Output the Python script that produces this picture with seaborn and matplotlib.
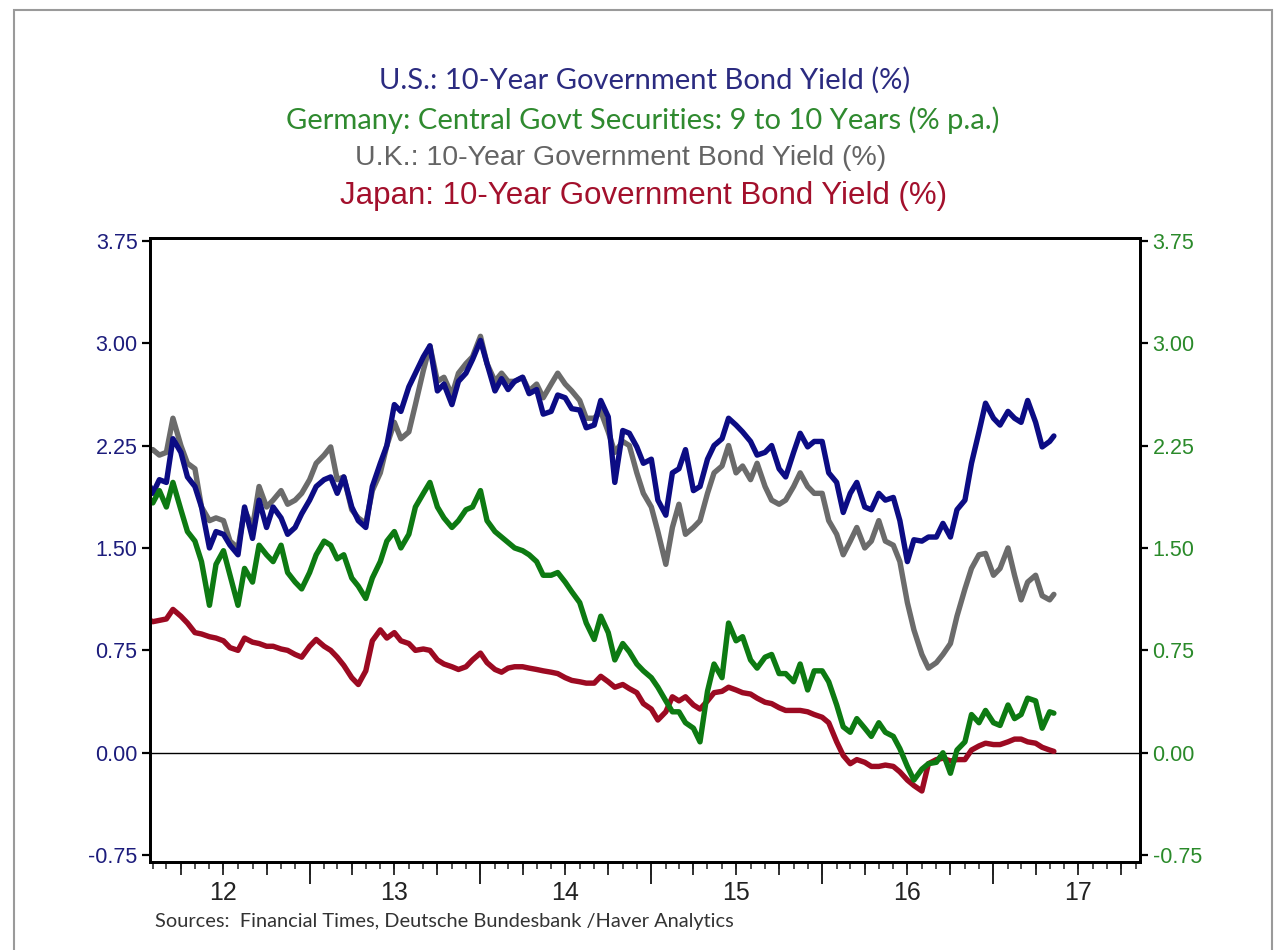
# ==============================================
# 10-year government bond yields: US, Germany, UK, Japan
# ==============================================

import pandas as pd
import matplotlib.pyplot as plt
import matplotlib.dates as mdates
from matplotlib.patches import Rectangle
import seaborn as sns

# ----------- Data (semi-monthly readings) -----------------------------

dates = ([pd.Timestamp("2012-01-26")]
         + list(pd.date_range("2012-02-01", "2017-05-01", freq="SMS"))
         + [pd.Timestamp("2017-05-10")])

us_yield = [
    1.95, 1.90, 2.00, 1.98, 2.30, 2.20, 2.02, 1.95, 1.80, 1.50, 1.62, 1.60,
    1.52, 1.45, 1.80, 1.57, 1.85, 1.65, 1.80, 1.72, 1.60, 1.65, 1.75,
    1.85, 1.95, 2.00, 2.02, 1.90, 2.02, 1.80, 1.70, 1.65, 1.95, 2.12, 2.25,
    2.55, 2.50, 2.68, 2.78, 2.90, 2.98, 2.65, 2.70, 2.55, 2.72, 2.78, 2.88,
    3.02, 2.85, 2.65, 2.74, 2.66, 2.72, 2.75, 2.63, 2.66, 2.48, 2.50, 2.62,
    2.60, 2.52, 2.51, 2.38, 2.40, 2.58, 2.46, 1.98, 2.36, 2.34, 2.24, 2.12,
    2.15, 1.85, 1.74, 2.05, 2.08, 2.22, 1.92, 1.95, 2.15, 2.25, 2.30, 2.45,
    2.40, 2.35, 2.28, 2.18, 2.20, 2.25, 2.08, 2.02, 2.20, 2.34, 2.24, 2.28,
    2.28, 2.05, 1.98, 1.76, 1.90, 1.98, 1.80, 1.78, 1.90, 1.85, 1.87, 1.70,
    1.40, 1.56, 1.55, 1.58, 1.58, 1.68, 1.58, 1.78, 1.85, 2.12, 2.35, 2.56,
    2.45, 2.40, 2.50, 2.45, 2.42, 2.58, 2.42, 2.24, 2.28, 2.32,
]

germany_yield = [
    1.85, 1.83, 1.92, 1.80, 1.98, 1.78, 1.62, 1.55, 1.40, 1.08, 1.38, 1.48,
    1.30, 1.08, 1.35, 1.25, 1.52, 1.45, 1.40, 1.52, 1.32, 1.25, 1.20,
    1.32, 1.45, 1.55, 1.52, 1.42, 1.45, 1.28, 1.22, 1.13, 1.28, 1.40, 1.55,
    1.62, 1.50, 1.60, 1.80, 1.90, 1.98, 1.80, 1.72, 1.65, 1.70, 1.78, 1.80,
    1.92, 1.70, 1.62, 1.58, 1.54, 1.50, 1.48, 1.45, 1.40, 1.30, 1.30, 1.32,
    1.25, 1.18, 1.10, 0.95, 0.83, 1.00, 0.88, 0.68, 0.80, 0.74, 0.65, 0.60,
    0.55, 0.48, 0.38, 0.30, 0.30, 0.22, 0.18, 0.08, 0.45, 0.65, 0.55, 0.95,
    0.82, 0.85, 0.68, 0.62, 0.70, 0.72, 0.58, 0.58, 0.52, 0.65, 0.46, 0.60,
    0.60, 0.52, 0.35, 0.19, 0.15, 0.25, 0.18, 0.12, 0.22, 0.15, 0.12, 0.03,
    -0.10, -0.20, -0.12, -0.08, -0.07, 0.00, -0.15, 0.02, 0.08, 0.28, 0.22, 0.31,
    0.22, 0.20, 0.35, 0.25, 0.28, 0.40, 0.38, 0.18, 0.30, 0.29,
]

uk_yield = [
    2.22, 2.22, 2.18, 2.20, 2.45, 2.25, 2.12, 2.08, 1.80, 1.70, 1.72, 1.70,
    1.55, 1.50, 1.78, 1.65, 1.95, 1.80, 1.85, 1.92, 1.82, 1.85, 1.90,
    2.00, 2.12, 2.18, 2.24, 2.00, 2.02, 1.78, 1.72, 1.68, 1.92, 2.05, 2.25,
    2.42, 2.30, 2.35, 2.55, 2.80, 2.98, 2.72, 2.75, 2.62, 2.78, 2.85, 2.90,
    3.05, 2.85, 2.72, 2.78, 2.72, 2.72, 2.75, 2.65, 2.70, 2.60, 2.70, 2.78,
    2.70, 2.65, 2.58, 2.45, 2.45, 2.50, 2.35, 2.20, 2.28, 2.25, 2.05, 1.90,
    1.80, 1.62, 1.38, 1.65, 1.82, 1.60, 1.65, 1.70, 1.90, 2.05, 2.10, 2.25,
    2.05, 2.10, 2.00, 2.12, 1.95, 1.85, 1.82, 1.85, 1.95, 2.05, 1.95, 1.90,
    1.90, 1.70, 1.60, 1.45, 1.55, 1.65, 1.50, 1.55, 1.70, 1.55, 1.52, 1.40,
    1.10, 0.90, 0.72, 0.62, 0.66, 0.72, 0.80, 1.00, 1.20, 1.35, 1.45, 1.46,
    1.30, 1.35, 1.50, 1.30, 1.12, 1.25, 1.30, 1.15, 1.12, 1.16,
]

japan_yield = [
    0.97, 0.96, 0.97, 0.98, 1.05, 1.00, 0.95, 0.88, 0.87, 0.85, 0.84, 0.82,
    0.77, 0.75, 0.84, 0.81, 0.80, 0.78, 0.78, 0.76, 0.75, 0.72, 0.70,
    0.78, 0.83, 0.78, 0.75, 0.70, 0.64, 0.55, 0.50, 0.60, 0.82, 0.90, 0.84,
    0.88, 0.82, 0.80, 0.75, 0.76, 0.75, 0.68, 0.65, 0.63, 0.61, 0.63, 0.68,
    0.73, 0.66, 0.61, 0.59, 0.62, 0.63, 0.63, 0.62, 0.61, 0.60, 0.59, 0.58,
    0.55, 0.53, 0.52, 0.51, 0.51, 0.56, 0.52, 0.48, 0.50, 0.47, 0.44, 0.36,
    0.32, 0.24, 0.30, 0.41, 0.38, 0.41, 0.35, 0.32, 0.38, 0.44, 0.45, 0.48,
    0.46, 0.44, 0.43, 0.40, 0.37, 0.36, 0.33, 0.31, 0.31, 0.31, 0.30, 0.28,
    0.26, 0.22, 0.08, -0.02, -0.08, -0.05, -0.07, -0.10, -0.10, -0.09, -0.10, -0.14,
    -0.20, -0.24, -0.28, -0.08, -0.05, -0.04, -0.06, -0.05, -0.05, 0.02, 0.05, 0.07,
    0.06, 0.06, 0.08, 0.10, 0.10, 0.08, 0.07, 0.04, 0.02, 0.01,
]

year_labels = ["12", "13", "14", "15", "16", "17"]
yield_ticks = [-0.75, 0.00, 0.75, 1.50, 2.25, 3.00, 3.75]

df = pd.DataFrame({
    "date": dates,
    "US": us_yield,
    "Germany": germany_yield,
    "UK": uk_yield,
    "Japan": japan_yield,
})
df["x"] = mdates.date2num(df["date"])

# ----------- Style ---------------

sns.set_theme(style="white")
plt.rcParams["font.family"] = ["Liberation Sans", "DejaVu Sans"]

NAVY = "#0c0c84"
GREEN = "#0d7a12"
GRAY = "#6b6b6b"
RED = "#9c0a22"
LW = 3.9

fig = plt.figure(figsize=(12.81, 9.5), dpi=100)
ax = fig.add_axes([150 / 1281, 1 - 862 / 950, 990 / 1281, 624 / 950])

# ----------- Lines ---------------

sns.lineplot(data=df, x="x", y="Japan", color=RED, lw=LW, ax=ax)
sns.lineplot(data=df, x="x", y="UK", color=GRAY, lw=LW, ax=ax)
sns.lineplot(data=df, x="x", y="US", color=NAVY, lw=LW, ax=ax)
ax.axhline(0, color="black", lw=1.0, zorder=1)

axr = ax.twinx()
sns.lineplot(data=df, x="x", y="Germany", color=GREEN, lw=LW, ax=axr)

x_lo = mdates.date2num(pd.Timestamp("2012-01-26"))
x_hi = mdates.date2num(pd.Timestamp("2017-11-10"))
for a in (ax, axr):
    a.set_xlim(x_lo, x_hi)
    a.set_ylim(-0.80, 3.77)
    a.set_xlabel("")
    a.set_ylabel("")
    a.set_yticks(yield_ticks)
    for s in a.spines.values():
        s.set_color("black")
        s.set_linewidth(2.0)

ax.set_yticklabels([f"{v:.2f}" for v in yield_ticks])
axr.set_yticklabels([f"{v:.2f}" for v in yield_ticks])
ax.tick_params(axis="y", left=True, length=6, width=1.6, pad=3,
               labelsize=15.5, labelcolor="#1c1c7c", color="black")
axr.tick_params(axis="y", right=True, length=6, width=1.6, pad=3,
                labelsize=15.5, labelcolor="#2a8a2a", color="black")

# date axis: long ticks at year starts, short ticks every month
year_starts = mdates.date2num(pd.date_range("2013-01-01", "2017-01-01", freq="YS"))
month_starts = mdates.date2num(pd.date_range("2012-02-01", "2017-11-01", freq="MS"))
quarters = mdates.date2num(pd.date_range("2012-04-01", "2017-10-01", freq="QS-JAN"))
mid_years = mdates.date2num(pd.to_datetime([f"20{y}-07-01" for y in year_labels]))

ax.set_xticks(year_starts)
ax.set_xticks(month_starts, minor=True)
ax.tick_params(axis="x", which="major", bottom=True, length=16, width=1.4,
               color="#222222", labelbottom=False)
ax.tick_params(axis="x", which="minor", bottom=True, length=5, width=1.1,
               color="#222222", labelbottom=False)

# quarter ticks
secq = ax.secondary_xaxis("bottom")
secq.set_xticks(quarters)
secq.set_xticklabels([""] * len(quarters))
secq.tick_params(axis="x", which="both", length=9, width=1.3, color="#222222")
secq.spines["bottom"].set_visible(False)

# year labels centred in each year
secl = ax.secondary_xaxis("bottom")
secl.set_xticks(mid_years)
secl.set_xticklabels(year_labels)
secl.tick_params(axis="x", which="both", length=0, pad=14, labelsize=18,
                 labelcolor="#222222")
secl.spines["bottom"].set_visible(False)

# ----------- Titles and source ---------------

title_lines = [
    ("U.S.: 10-Year Government Bond Yield (%)", "#2b2b80", "Lato", 21, 645, 80),
    ("Germany: Central Govt Securities: 9 to 10 Years (% p.a.)", "#2f8a2f", "Lato", 21, 643, 120),
    ("U.K.: 10-Year Government Bond Yield (%)", "#646464", "Liberation Sans", 20.5, 621, 158),
    ("Japan: 10-Year Government Bond Yield (%)", "#a3102c", "Liberation Sans", 22.5, 644, 196),
]
for text, color, family, size, xpx, ypx in title_lines:
    fig.text(xpx / 1281, 1 - ypx / 950, text, color=color, fontsize=size,
             family=[family, "DejaVu Sans"], ha="center", va="center")

fig.text(155 / 1281, 1 - 922 / 950,
         "Sources:  Financial Times, Deutsche Bundesbank /Haver Analytics",
         fontsize=14.4, family=["Lato", "DejaVu Sans"], color="#333333",
         ha="left", va="center")

# outer frame of the picture
fig.patches.append(Rectangle((14 / 1281, -0.02), 1258 / 1281, 1.0147 - 5 / 950,
                             transform=fig.transFigure, fill=False,
                             edgecolor="#9a9a9a", lw=1.5))

fig.savefig("out.png", dpi=100)
